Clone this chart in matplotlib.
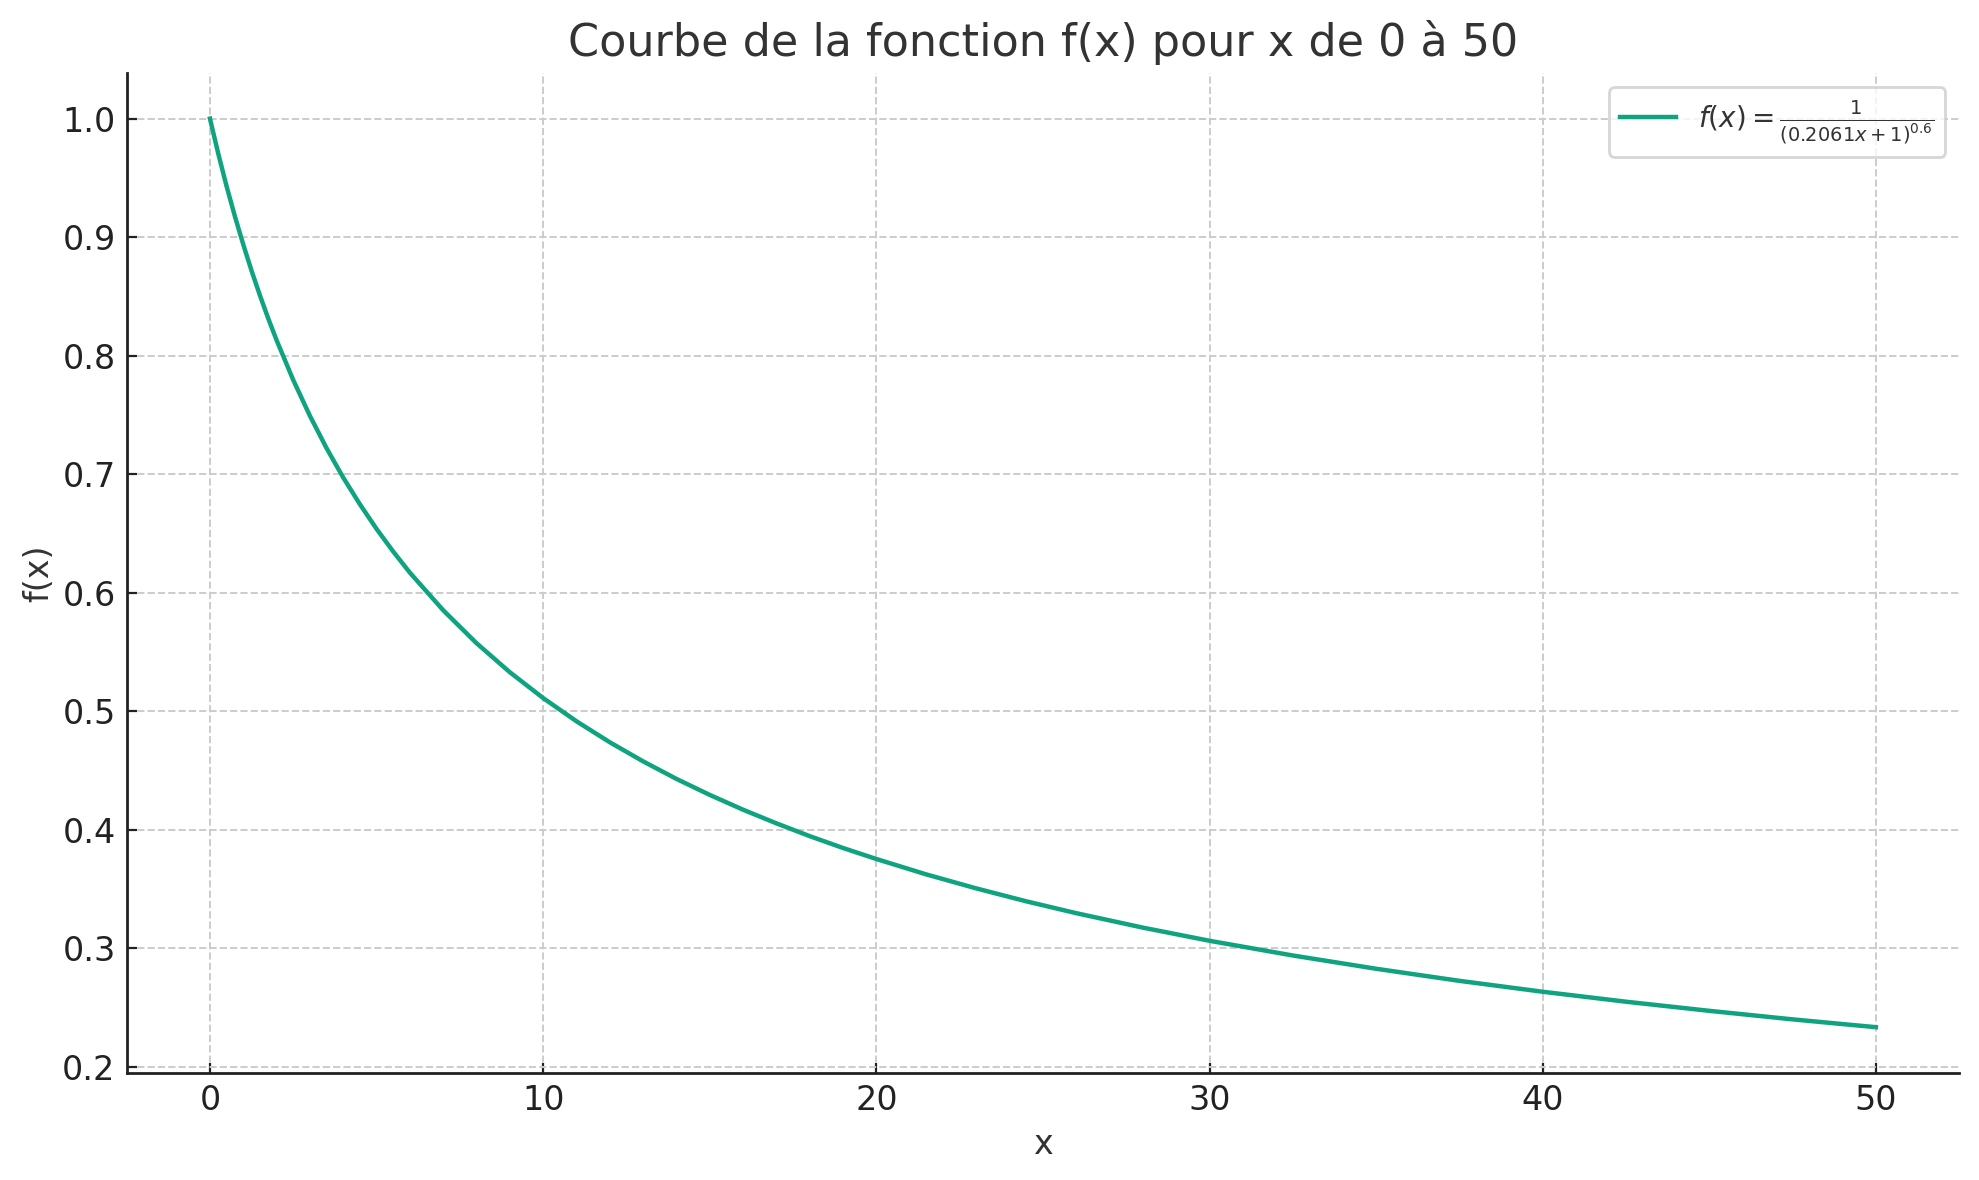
import matplotlib
matplotlib.use("Agg")
import matplotlib.pyplot as plt

# values
x_vals = [0, 0.25, 0.5, 0.75, 1, 1.25, 1.5, 1.75, 2, 2.5, 3, 3.5, 4, 4.5, 5, 5.5, 6, 7, 8, 9,
          10, 11, 12, 13, 14, 15, 16, 17, 18, 19, 20, 21.5, 23, 24.5, 26, 28, 30, 32.5,
          35, 37.5, 40, 42.5, 45, 47.5, 50]
f_vals = [1.0, 0.9703, 0.9428, 0.9174, 0.8937, 0.8715, 0.8508, 0.8313, 0.8130, 0.7794,
          0.7492, 0.7219, 0.6971, 0.6746, 0.6538, 0.6347, 0.6169, 0.5852, 0.5574, 0.5329,
          0.5111, 0.4915, 0.4738, 0.4577, 0.4429, 0.4294, 0.4169, 0.4054, 0.3946, 0.3846,
          0.3753, 0.3623, 0.3505, 0.3396, 0.3296, 0.3174, 0.3063, 0.2939, 0.2827, 0.2725,
          0.2633, 0.2549, 0.2472, 0.2400, 0.2334]
label = r"$f(x) = \frac{1}{(0.2061x + 1)^{0.6}}$"

plt.rcParams['text.color'] = '#333333'
plt.rcParams['axes.labelcolor'] = '#333333'

fig = plt.figure(figsize=(9.895, 5.9), dpi=200)
ax = fig.add_axes([0.064, 0.091, 0.926, 0.847])

ax.plot(x_vals, f_vals, color='#10a37f', lw=1.6, label=label)

ax.set_title("Courbe de la fonction f(x) pour x de 0 à 50", fontsize=16, color='#333333')
ax.set_xlabel("x", fontsize=12, labelpad=4)
ax.set_ylabel("f(x)", fontsize=12, labelpad=2.5)
ax.tick_params(labelsize=12, colors='#222222', labelcolor='#222222',
               direction='in', length=3.5, pad=4)
ax.grid(True, linestyle='--', color='#cccccc', lw=0.7)
ax.spines['top'].set_visible(False)
ax.spines['right'].set_visible(False)
for s in ['left', 'bottom']:
    ax.spines[s].set_color('#222222')
    ax.spines[s].set_linewidth(1.0)

leg = ax.legend(loc='upper right', fontsize=10, frameon=True, fancybox=True)
leg.get_frame().set_edgecolor('#cccccc')

fig.savefig("out.png", dpi=200)
